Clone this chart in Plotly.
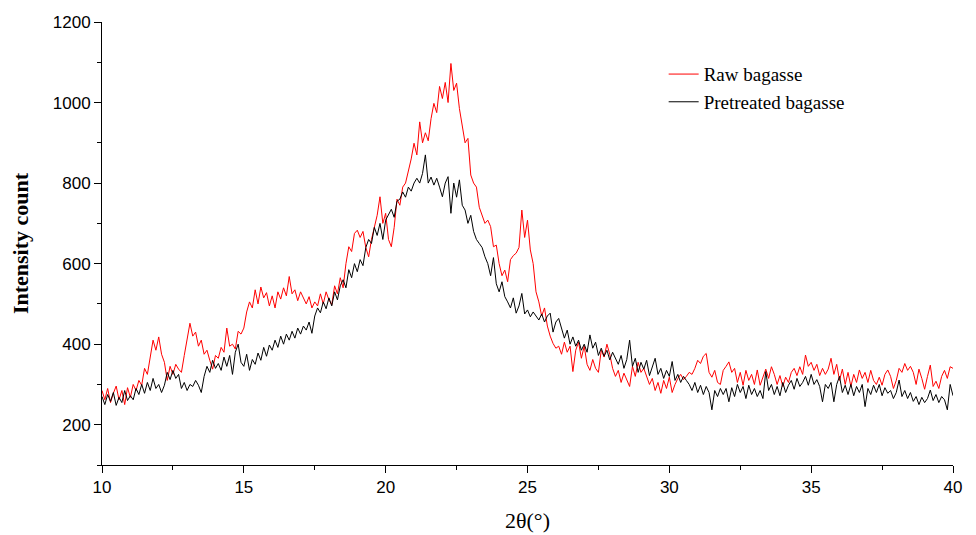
import plotly.graph_objects as go

# 2-theta grid of the scan: 10.0 .. 40.0 in 0.1 degree steps
theta_start = 10.0
theta_step = 0.1

raw_bagasse = [
    285, 262, 290, 255, 278, 296, 262, 285, 250, 292,   # 10.0-10.9
    268, 300, 285, 310, 298, 340, 325, 372, 410, 385,   # 11.0-11.9
    418, 375, 355, 310, 345, 325, 350, 338, 330, 372,   # 12.0-12.9
    410, 452, 420, 430, 395, 410, 375, 385, 360, 338,   # 13.0-13.9
    372, 365, 392, 380, 440, 395, 400, 388, 432, 425,   # 14.0-14.9
    440, 480, 505, 490, 535, 500, 542, 515, 528, 495,   # 15.0-15.9
    520, 490, 530, 512, 540, 520, 568, 525, 535, 508,   # 16.0-16.9
    530, 515, 500, 518, 490, 505, 495, 525, 500, 530,   # 17.0-17.9
    510, 498, 545, 525, 565, 540, 600, 642, 630, 675,   # 18.0-18.9
    683, 665, 680, 640, 617, 660, 690, 720, 766, 700,   # 19.0-19.9
    725, 660, 642, 690, 760, 745, 790, 800, 830, 860,   # 20.0-20.9
    899, 870, 952, 900, 925, 905, 960, 998, 975, 1040,  # 21.0-21.9
    1010, 1050, 1000, 1097, 1030, 1048, 985, 940, 900, 911,  # 22.0-22.9
    820, 800, 790, 740, 718, 700, 708, 692, 642, 646,   # 23.0-23.9
    600, 570, 584, 555, 610, 620, 626, 640, 733, 665,   # 24.0-24.9
    708, 634, 600, 530, 505, 470, 490, 445, 420, 402,   # 25.0-25.9
    390, 395, 375, 405, 380, 395, 332, 385, 405, 365,   # 26.0-26.9
    395, 350, 335, 362, 340, 330, 385, 368, 400, 375,   # 27.0-27.9
    340, 320, 335, 305, 328, 310, 295, 345, 320, 355,   # 28.0-28.9
    330, 340, 318, 300, 315, 285, 305, 278, 310, 290,   # 29.0-29.9
    318, 280, 300, 315, 325, 312, 320, 330, 325, 340,   # 30.0-30.9
    360, 352, 370, 377, 330, 318, 335, 305, 300, 335,   # 31.0-31.9
    345, 356, 330, 340, 305, 330, 298, 335, 310, 325,   # 32.0-32.9
    300, 336, 298, 320, 338, 315, 344, 325, 300, 322,   # 33.0-33.9
    295, 318, 305, 330, 340, 322, 344, 325, 373, 345,   # 34.0-34.9
    355, 335, 350, 322, 340, 325, 338, 365, 325, 350,   # 35.0-35.9
    310, 338, 300, 330, 295, 325, 305, 336, 315, 330,   # 36.0-36.9
    305, 335, 310, 300, 318, 298, 325, 336, 320, 290,   # 37.0-37.9
    310, 340, 330, 352, 335, 345, 330, 300, 338, 315,   # 38.0-38.9
    288, 320, 348, 295, 308, 290, 320, 335, 315, 344,   # 39.0-39.9
    340,                                                # 40.0
]

pretreated_bagasse = [
    270, 250, 275, 258, 280, 248, 268, 255, 285, 260,   # 10.0-10.9
    272, 262, 290, 275, 300, 278, 305, 285, 315, 290,   # 11.0-11.9
    300, 280, 298, 330, 312, 335, 315, 325, 290, 305,   # 12.0-12.9
    285, 300, 295, 310, 298, 280, 320, 345, 330, 360,   # 13.0-13.9
    340, 352, 335, 368, 345, 372, 325, 380, 400, 355,   # 14.0-14.9
    345, 375, 335, 362, 350, 378, 360, 392, 370, 398,   # 15.0-15.9
    385, 410, 392, 420, 400, 425, 410, 432, 415, 440,   # 16.0-16.9
    425, 445, 435, 455, 427, 470, 490, 478, 505, 488,   # 17.0-17.9
    515, 495, 530, 510, 545, 560, 540, 585, 565, 600,   # 18.0-18.9
    580, 610, 595, 640, 660, 650, 690, 670, 700, 660,   # 19.0-19.9
    708, 720, 735, 715, 755, 760, 778, 765, 790, 780,   # 20.0-20.9
    800, 812, 800, 824, 870, 800, 815, 795, 812, 790,   # 21.0-21.9
    766, 800, 816, 725, 800, 765, 808, 745, 733, 700,   # 22.0-22.9
    720, 680, 660, 650, 640, 617, 600, 570, 615, 550,   # 23.0-23.9
    530, 555, 518, 505, 490, 515, 477, 495, 526, 475,   # 24.0-24.9
    485, 468, 480, 470, 460, 475, 455, 470, 477, 430,   # 25.0-25.9
    455, 464, 440, 415, 435, 400, 418, 395, 410, 385,   # 26.0-26.9
    400, 380, 423, 390, 405, 372, 390, 370, 385, 361,   # 27.0-27.9
    380, 365, 350, 372, 340, 362, 410, 345, 365, 330,   # 28.0-28.9
    355, 338, 360, 322, 345, 365, 325, 340, 315, 335,   # 29.0-29.9
    320, 357, 310, 325, 305, 320, 310, 300, 285, 305,   # 30.0-30.9
    280, 298, 275, 295, 280, 237, 285, 270, 290, 275,   # 31.0-31.9
    290, 257, 292, 270, 300, 280, 295, 265, 298, 275,   # 32.0-32.9
    290, 270, 285, 265, 332, 285, 300, 275, 295, 272,   # 33.0-33.9
    305, 280, 298, 310, 288, 315, 295, 305, 320, 298,   # 34.0-34.9
    325, 300, 312, 295, 257, 300, 290, 305, 257, 300,   # 35.0-35.9
    320, 280, 298, 275, 300, 272, 295, 280, 300, 245,   # 36.0-36.9
    290, 275, 298, 280, 300, 272, 292, 278, 285, 265,   # 37.0-37.9
    280, 311, 270, 285, 265, 280, 258, 270, 250, 268,   # 38.0-38.9
    255, 265, 286, 260, 275, 255, 270, 262, 237, 300,   # 39.0-39.9
    272,                                                # 40.0
]

series_names = ["Raw bagasse", "Pretreated bagasse"]
series_colors = ["#ff0000", "#000000"]

x_raw = [round(theta_start + i * theta_step, 2) for i in range(len(raw_bagasse))]
x_pre = [round(theta_start + i * theta_step, 2) for i in range(len(pretreated_bagasse))]

fig = go.Figure()
fig.add_trace(go.Scatter(x=x_raw, y=raw_bagasse, mode="lines", name=series_names[0],
                         line=dict(color=series_colors[0], width=1)))
fig.add_trace(go.Scatter(x=x_pre, y=pretreated_bagasse, mode="lines", name=series_names[1],
                         line=dict(color=series_colors[1], width=1)))

tick_font = dict(family="Liberation Sans, Arial, sans-serif", size=17, color="#000000")
serif = "Liberation Serif, Times New Roman, serif"

fig.update_layout(
    width=968, height=527,
    margin=dict(l=94, r=23, t=14, b=70, autoexpand=False),
    paper_bgcolor="white", plot_bgcolor="white",
    showlegend=True,
    legend=dict(x=0.66, y=0.925, xanchor="left", yanchor="top",
                font=dict(family=serif, size=19, color="#000000"),
                bgcolor="rgba(0,0,0,0)", tracegroupgap=0),
    xaxis=dict(
        range=[10, 40], showgrid=False, zeroline=False, automargin=False,
        showline=True, linecolor="#000000", linewidth=1,
        ticks="outside", ticklen=7, tickwidth=1, tickcolor="#000000",
        tickvals=[10, 15, 20, 25, 30, 35, 40],
        minor=dict(tickvals=[12.5, 17.5, 22.5, 27.5, 32.5, 37.5], ticks="outside",
                   ticklen=4, tickwidth=1, tickcolor="#000000", showgrid=False),
        tickfont=tick_font,
        title=dict(text="2θ(°)", font=dict(family=serif, size=22, color="#000000"), standoff=16),
    ),
    yaxis=dict(
        range=[100, 1200], showgrid=False, zeroline=False, automargin=False,
        showline=True, linecolor="#000000", linewidth=1,
        ticks="outside", ticklen=7, tickwidth=1, tickcolor="#000000",
        tickvals=[200, 400, 600, 800, 1000, 1200],
        minor=dict(tickvals=[100, 300, 500, 700, 900, 1100], ticks="outside",
                   ticklen=4, tickwidth=1, tickcolor="#000000", showgrid=False),
        tickfont=tick_font,
        title=dict(text="<b>Intensity count</b>", font=dict(family=serif, size=22, color="#000000"),
                   standoff=20),
    ),
)

fig.write_html("out.html")
